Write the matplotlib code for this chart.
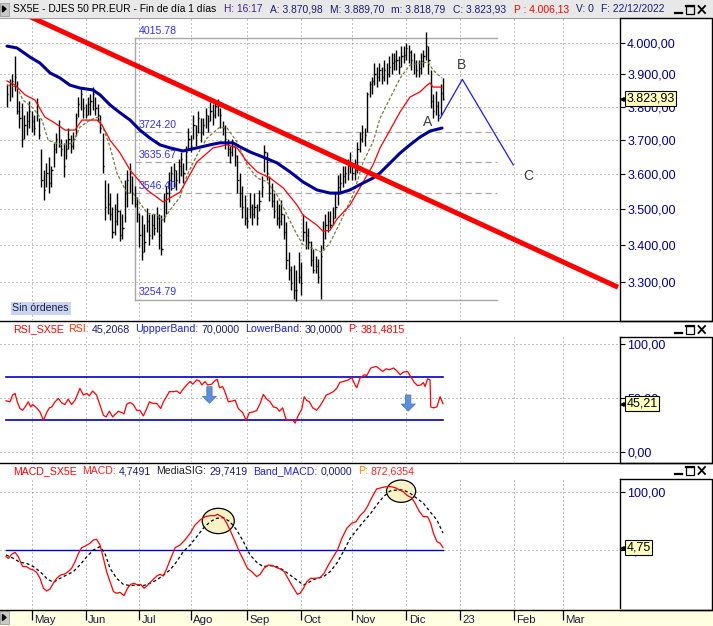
import matplotlib
matplotlib.use("Agg")
import matplotlib.pyplot as plt
import matplotlib.ticker as mticker
from matplotlib.patches import Rectangle, Ellipse
import numpy as np

plt.rcParams['font.family'] = ['Liberation Sans', 'DejaVu Sans']

W, H = 713, 626

# ---- price bars, one per trading day (index 0 ~ 19 Apr 2022, index 178 = 22 Dec 2022)
highs = [3869, 3885, 3902, 3957, 3880, 3817, 3811, 3775, 3786, 3817,
         3786, 3775, 3827, 3765, 3673, 3612, 3632, 3649, 3622, 3691,
         3721, 3759, 3703, 3691, 3703, 3734, 3713, 3724, 3781, 3828,
         3859, 3827, 3807, 3828, 3838, 3859, 3828, 3807, 3775, 3721,
         3583, 3573, 3544, 3506, 3515, 3544, 3497, 3485, 3583, 3611,
         3632, 3593, 3564, 3534, 3488, 3482, 3457, 3503, 3485, 3485,
         3485, 3505, 3485, 3482, 3544, 3564, 3606, 3622, 3632, 3612,
         3642, 3663, 3632, 3683, 3734, 3713, 3775, 3744, 3786, 3765,
         3765, 3796, 3775, 3813, 3807, 3817, 3822, 3796, 3755, 3744,
         3703, 3683, 3703, 3683, 3654, 3603, 3564, 3540, 3505, 3544,
         3515, 3544, 3515, 3554, 3593, 3685, 3663, 3593, 3573, 3544,
         3525, 3515, 3525, 3485, 3463, 3380, 3343, 3345, 3333, 3380,
         3353, 3485, 3466, 3447, 3410, 3390, 3371, 3362, 3400, 3466,
         3485, 3495, 3495, 3505, 3544, 3597, 3603, 3622, 3622, 3642,
         3663, 3632, 3642, 3693, 3724, 3744, 3734, 3844, 3880, 3891,
         3934, 3923, 3934, 3923, 3946, 3934, 3956, 3966, 3966, 3977,
         3956, 3988, 3988, 4000, 3994, 3977, 3966, 3946, 3946, 3966,
         3977, 4036, 3988, 3913, 3838, 3849, 3817, 3870, 3889.70]
lows = [3798, 3816, 3829, 3848, 3776, 3734, 3679, 3703, 3714, 3734,
        3724, 3714, 3755, 3703, 3563, 3525, 3563, 3545, 3563, 3619,
        3662, 3679, 3652, 3591, 3642, 3673, 3662, 3673, 3710, 3769,
        3789, 3765, 3765, 3775, 3775, 3789, 3775, 3755, 3721, 3602,
        3468, 3485, 3468, 3420, 3427, 3456, 3412, 3418, 3465, 3506,
        3546, 3514, 3505, 3465, 3394, 3359, 3381, 3435, 3400, 3418,
        3427, 3437, 3390, 3372, 3465, 3485, 3519, 3554, 3563, 3554,
        3573, 3593, 3573, 3612, 3673, 3663, 3703, 3683, 3719, 3693,
        3714, 3734, 3724, 3755, 3744, 3765, 3770, 3734, 3714, 3673,
        3652, 3632, 3652, 3622, 3544, 3505, 3475, 3455, 3446, 3475,
        3456, 3475, 3456, 3495, 3534, 3605, 3583, 3524, 3505, 3475,
        3456, 3446, 3456, 3417, 3336, 3306, 3279, 3256, 3252, 3298,
        3266, 3410, 3390, 3390, 3343, 3324, 3324, 3298, 3255, 3390,
        3418, 3437, 3446, 3456, 3475, 3510, 3544, 3563, 3573, 3583,
        3602, 3583, 3583, 3602, 3663, 3694, 3683, 3724, 3828, 3838,
        3866, 3859, 3880, 3870, 3880, 3870, 3891, 3902, 3913, 3913,
        3902, 3923, 3934, 3946, 3934, 3913, 3902, 3891, 3891, 3902,
        3923, 3946, 3902, 3796, 3765, 3775, 3755, 3775, 3818.79]
closes = [3838, 3869, 3880, 3891, 3786, 3765, 3703, 3744, 3755, 3786,
          3755, 3734, 3807, 3714, 3583, 3554, 3603, 3573, 3612, 3673,
          3703, 3683, 3673, 3622, 3673, 3703, 3683, 3703, 3765, 3807,
          3838, 3796, 3775, 3807, 3817, 3838, 3796, 3775, 3734, 3622,
          3505, 3514, 3485, 3437, 3466, 3495, 3427, 3446, 3544, 3583,
          3603, 3544, 3514, 3485, 3427, 3380, 3409, 3466, 3427, 3456,
          3446, 3475, 3427, 3390, 3524, 3544, 3583, 3603, 3612, 3583,
          3622, 3642, 3603, 3663, 3703, 3683, 3744, 3714, 3765, 3724,
          3744, 3775, 3755, 3786, 3775, 3801, 3817, 3775, 3734, 3703,
          3673, 3663, 3683, 3652, 3583, 3544, 3505, 3475, 3466, 3505,
          3485, 3505, 3475, 3524, 3563, 3663, 3603, 3544, 3524, 3495,
          3475, 3466, 3485, 3437, 3361, 3333, 3298, 3279, 3279, 3315,
          3298, 3437, 3427, 3409, 3361, 3333, 3343, 3315, 3371, 3409,
          3456, 3466, 3456, 3475, 3505, 3563, 3573, 3593, 3603, 3622,
          3632, 3603, 3612, 3673, 3703, 3724, 3713, 3838, 3869, 3880,
          3902, 3891, 3913, 3891, 3913, 3902, 3923, 3934, 3940, 3946,
          3923, 3956, 3961, 3982, 3971, 3946, 3934, 3913, 3918, 3940,
          3956, 3988, 3946, 3817, 3786, 3801, 3775, 3843, 3823.93]

# ---- moving averages (bar index, value)
ma_fast_x = [-0.1, 4.0, 6.4, 10.5, 14.2, 16.7, 19.5, 22.8, 26.9, 29.7, 33.8, 37.1, 39.1, 42.0,
             44.8, 48.9, 51.4, 54.2, 57.1, 61.2, 63.7, 66.5, 70.6, 73.5, 77.5, 81.6, 86.9,
             89.8, 93.9, 98.0, 102.1, 106.2, 110.2, 114.3, 118.4, 120.8, 124.9, 128.6, 131.9,
             136.0, 141.3, 145.4, 149.4, 152.3, 160.5, 164.5, 168.6, 171.9, 173.9, 177.6]
ma_fast_y = [3866, 3860, 3820, 3796, 3759, 3699, 3691, 3685, 3691, 3738, 3759, 3768, 3738, 3679,
             3603, 3545, 3545, 3517, 3489, 3483, 3469, 3497, 3534, 3597, 3655, 3705, 3738,
             3735, 3693, 3626, 3588, 3577, 3540, 3483, 3428, 3401, 3391, 3380, 3407,
             3463, 3540, 3635, 3693, 3765, 3888, 3929, 3935, 3938, 3913, 3888]
ma_mid_x = [-0.1, 3.2, 7.3, 11.3, 15.4, 19.5, 23.6, 27.7, 30.5, 33.8, 36.7, 38.7, 42.0, 46.1,
            50.2, 57.1, 63.7, 70.6, 77.5, 84.1, 89.8, 93.9, 98.0, 102.1, 107.4, 112.7, 118.4,
            120.8, 126.5, 129.0, 131.9, 134.7, 140.0, 145.4, 149.4, 152.3, 160.5, 164.5,
            168.6, 171.5, 172.7, 173.9, 177.6]
ma_mid_y = [3879, 3866, 3836, 3820, 3768, 3750, 3729, 3729, 3759, 3759, 3759, 3744, 3699, 3661,
            3611, 3554, 3520, 3548, 3635, 3676, 3685, 3676, 3635, 3606, 3588, 3560, 3511,
            3483, 3455, 3438, 3441, 3472, 3511, 3577, 3626, 3676, 3784, 3829,
            3845, 3866, 3873, 3860, 3860]
ma_slow_x = [-0.1, 4.0, 9.3, 13.4, 17.5, 21.6, 25.6, 29.7, 35.0, 37.9, 42.0, 46.1, 50.2, 54.2,
             58.3, 62.4, 66.5, 71.8, 77.5, 82.8, 86.9, 92.2, 95.1, 99.2, 104.5, 110.2, 115.5,
             120.8, 126.5, 131.9, 136.0, 140.0, 145.4, 149.4, 152.3, 160.5, 164.5, 168.6,
             172.7, 177.6]
ma_slow_y = [3989, 3983, 3954, 3935, 3904, 3888, 3866, 3857, 3851, 3836, 3805, 3781, 3759, 3729,
             3705, 3685, 3676, 3667, 3676, 3685, 3691, 3691, 3679, 3664, 3649, 3632, 3606,
             3577, 3554, 3545, 3545, 3554, 3574, 3588, 3603, 3661, 3685, 3708,
             3726, 3735]

# ---- drawings
trend_x = [-3, 249.5]
trend_y = [4130, 3287]
abc_x = [176.8, 185.9, 206.7]
abc_y = [3764, 3884, 3626]
abc_lbl_x = [171.7, 185.6, 212.7]
abc_lbl_y = [3753, 3929, 3594]
abc_lbl = ['A', 'B', 'C']
fib_levels = [4015.78, 3724.20, 3635.67, 3546.40, 3254.79]
fib_x0, fib_x1 = 52.0, 200.0

# ---- RSI (bar index, value)
rsi_x = [-0.5, 1.1, 2.2, 3.2, 4.1, 5.2, 6.3, 7.3, 8.6, 9.6, 10.4, 12.0, 13.4, 14.8, 16.1, 17.2,
         18.2, 19.5, 20.9, 22.2, 23.6, 24.9, 26.3, 27.7, 29.7, 31.1, 32.5, 33.5, 34.9, 36.5,
         37.9, 39.3, 40.4, 41.7, 43.1, 44.0, 45.4, 46.8, 47.7, 48.8, 50.2, 51.5, 52.9, 54.3,
         55.6, 57.0, 58.1, 59.4, 61.1, 62.7, 63.8, 65.2, 66.2, 67.9, 69.2, 70.6, 71.9, 73.3,
         74.7, 75.8, 77.4, 78.5, 79.5, 80.8, 81.8, 83.5, 84.9, 85.8, 86.7, 88.0, 89.0, 90.3,
         91.7, 93.1, 94.4, 96.2, 97.6, 98.9, 100.3, 101.9, 103.3, 104.6, 106.0, 107.4, 108.7,
         110.1, 111.2, 112.5, 113.9, 115.3, 116.6, 117.6, 118.9, 120.3, 121.3, 122.3, 123.4,
         124.8, 126.4, 127.8, 129.2, 130.3, 131.9, 133.2, 134.6, 135.9, 137.3, 139.4, 140.7,
         142.1, 142.8, 144.1, 145.8, 146.9, 148.5, 150.7, 152.0, 153.4, 154.8, 156.1, 157.8,
         159.1, 160.5, 161.8, 163.5, 164.8, 166.2, 167.6, 168.9, 170.0, 170.7, 171.7, 172.7,
         173.0, 174.1, 175.5, 176.8, 178.0]
rsi_y = [47.9, 46.9, 53.2, 54.7, 46.9, 40.7, 39.1, 42.2, 46.9, 42.2, 44.4, 41.3, 37.5, 29.7, 36.9, 41.3,
         42.2, 46.9, 50.0, 46.0, 44.4, 49.4, 44.4, 48.5, 59.4, 53.2, 54.7, 52.5, 56.9, 53.2,
         43.8, 34.4, 32.9, 38.2, 32.9, 35.1, 38.2, 36.9, 35.7, 44.7, 46.3, 44.4, 39.1, 38.8,
         33.8, 40.7, 46.9, 45.4, 45.4, 40.7, 46.9, 52.2, 56.3, 56.3, 56.9, 54.7, 58.8, 62.5,
         65.7, 63.2, 67.2, 66.3, 62.5, 65.7, 62.5, 63.2, 66.6, 67.9, 60.0, 61.0, 55.7, 46.9,
         47.5, 48.5, 40.7, 36.9, 29.7, 36.9, 37.5, 38.8, 45.4, 53.8, 49.4, 46.9, 42.2,
         41.3, 38.2, 41.3, 30.7, 30.1, 30.1, 27.2, 34.4, 40.0, 51.6, 48.2, 46.9,
         41.3, 39.1, 43.2, 48.5, 53.2, 54.7, 56.3, 59.4, 65.0, 65.7, 67.2, 69.4,
         62.5, 60.0, 68.8, 71.9, 71.3, 78.2, 79.7, 77.5, 75.0, 77.5, 76.6, 78.2,
         75.7, 71.9, 74.4, 75.0, 70.3, 65.0, 61.9, 62.5, 64.7, 61.0, 68.2, 67.2,
         42.2, 41.3, 42.2, 51.6, 45.21]
rsi_upper, rsi_lower = 70, 30
rsi_arrow_x = [82.6, 163.8]
rsi_arrow_top = [60.9, 53.2]
rsi_arrow_tip = [45.6, 38.4]

# ---- MACD (bar index, value)
macd_x = [-0.5, 0.5, 1.8, 3.2, 4.5, 6.3, 7.9, 9.3, 10.7, 12.0, 13.4, 14.8, 16.1, 17.5, 18.8, 20.2,
          21.8, 23.2, 24.9, 26.3, 27.7, 29.1, 30.4, 32.2, 33.8, 35.2, 36.5, 37.9, 39.3, 40.6,
          42.0, 43.4, 44.7, 46.1, 47.7, 49.1, 50.4, 51.8, 53.2, 54.5, 55.9, 57.7, 59.4, 61.1,
          62.4, 63.8, 65.2, 66.8, 68.6, 70.6, 72.6, 74.7, 76.7, 78.8, 80.8, 82.9, 84.9, 85.9,
          86.9, 88.3, 89.7, 91.3, 93.1, 94.8, 96.5, 98.1, 99.9, 101.9, 103.3, 104.9, 106.7,
          108.5, 110.1, 111.5, 113.1, 114.5, 115.8, 117.2, 118.5, 119.6, 121.0, 122.4, 123.9,
          125.8, 127.8, 129.4, 131.2, 133.2, 134.9, 136.7, 138.7, 140.7, 142.5, 144.1, 145.8,
          147.1, 148.9, 150.9, 153.0, 155.0, 156.7, 158.4, 160.2, 161.8, 163.5, 165.2, 166.6,
          168.4, 170.0, 171.7, 173.0, 174.1, 175.5, 176.8, 178.0]
macd_y = [-10.9, -13.8, -6.9, -3.5, -10.9, -28.0, -28.0, -32.0, -33.8, -37.8, -48.1, -65.2, -69.8,
          -66.4, -56.6, -48.1, -42.3, -41.2, -36.6, -30.9, -19.5, -5.2, 4.5, 8.0, 12.0, 17.7, 18.8,
          9.1, -13.8, -36.6, -53.8, -70.9, -73.8, -72.1, -77.8, -65.2, -58.4, -56.6, -59.5, -58.4,
          -65.2, -58.4, -50.9, -44.1, -41.2, -44.1, -30.9, -13.8, 4.5, 9.1, 17.7, 29.1, 43.4, 52.0,
          57.7, 59.4, 59.4, 61.7, 59.4, 56.0, 46.3, 32.0, 14.8, -2.3, -16.6, -30.9, -36.6, -45.2,
          -41.2, -30.9, -25.2, -26.3, -29.8, -32.0, -36.6, -46.9, -56.6, -66.4, -75.5, -73.8,
          -65.2, -53.8, -48.1, -48.1, -46.9, -39.5, -25.2, -10.9, 0.5, 20.6, 37.7, 46.3, 49.2,
          59.4, 66.3, 74.9, 90.3, 105.2, 107.5, 109.2, 109.2, 107.5, 103.5, 100.6, 93.7, 90.3,
          80.6, 66.3, 57.7, 57.7, 46.3, 29.1, 14.8, 12.0, 4.75]
sig_x = [-0.5, 2.5, 5.2, 7.9, 10.7, 13.4, 16.1, 18.8, 21.6, 24.3, 27.0, 29.7, 32.5, 35.2, 37.9,
         39.9, 42.0, 44.7, 47.4, 50.2, 52.9, 55.6, 58.3, 61.1, 63.8, 66.5, 69.2, 71.9, 74.7,
         77.4, 80.1, 82.9, 85.6, 88.3, 91.0, 93.7, 96.5, 99.2, 101.9, 104.6, 107.4, 110.1,
         112.8, 115.5, 118.3, 121.0, 123.7, 126.4, 129.2, 131.9, 134.6, 137.3, 140.1, 142.8,
         145.5, 148.2, 150.9, 153.7, 156.4, 159.1, 161.8, 164.6, 167.3, 170.0, 172.7, 175.5, 178.0]
sig_y = [-8.0, -13.8, -20.6, -22.3, -28.0, -36.6, -48.1, -54.9, -48.1, -42.3, -36.6, -25.2, -10.9,
         0.5, 6.3, -5.2, -30.9, -48.1, -58.4, -60.6, -59.5, -60.6, -56.6, -50.9, -42.3, -33.8,
         -19.5, -2.3, 9.1, 23.4, 37.7, 49.1, 54.9, 56.0, 49.1, 34.9, 14.8, -8.0, -20.6, -28.0,
         -26.3, -28.0, -33.8, -42.3, -50.9, -59.5, -53.8, -48.1, -45.2, -36.6, -22.3, -2.3,
         20.6, 34.9, 49.1, 61.7, 77.7, 92.0, 101.8, 103.5, 103.5, 97.8, 89.2, 80.6, 66.3, 52.0,
         29.74]
macd_circles = [(86.2, 50.3, 13.1, 43.4), (160.9, 101.4, 11.9, 38.3)]

# ---- time axis
month_idx = [10, 32, 54, 75, 98, 120, 141, 163, 185, 207, 227]
month_lbl = ['May', 'Jun', 'Jul', 'Ago', 'Sep', 'Oct', 'Nov', 'Dic', '23', 'Feb', 'Mar']

# ---- header texts (text, colour, gap after in em)
hdr_main = [("SX5E - DJES 50 PR.EUR - Fin de día 1 días", '#000000', 0.75),
            ("H: 16:17", '#40208F', 0.75), ("A: 3.870,98", '#1C1C78', 0.75),
            ("M: 3.889,70", '#1C1C78', 0.75), ("m: 3.818,79", '#1C1C78', 0.75),
            ("C: 3.823,93", '#1C1C78', 0.75), ("P : 4.006,13", '#FF0000', 0.75),
            ("V: 0", '#1C1C78', 0.75), ("F: 22/12/2022", '#1C1C78', 0)]
hdr_rsi = [("RSI_SX5E", '#FF0000', 0.5), ("RSI:", '#FF3300', 0.3), ("45,2068", '#1C1C78', 0.5),
           ("UppperBand:", '#2020E0', 0.3), ("70,0000", '#1C1C78', 0.5),
           ("LowerBand:", '#2020E0', 0.3), ("30,0000", '#1C1C78', 0.5),
           ("P:", '#FF0000', 0.3), ("381,4815", '#FF0000', 0)]
hdr_macd = [("MACD_SX5E", '#FF0000', 0.5), ("MACD:", '#FF2020', 0.3), ("4,7491", '#1C1C78', 0.5),
            ("MediaSIG:", '#202020', 0.3), ("29,7419", '#1C1C78', 0.5),
            ("Band_MACD:", '#2020E0', 0.3), ("0,0000", '#1C1C78', 0.5),
            ("P:", '#FF8000', 0.3), ("872,6354", '#FF2020', 0)]

XL = (-2.95, 250.3)
NAVY = '#000090'
GRID = dict(color='#808080', lw=0.72, ls=(0, (1, 3)))


def es(v, d=2):
    s = f"{v:,.{d}f}"
    return s.replace(',', 'X').replace('.', ',').replace('X', '.')


def pix_axes(top, bottom, left=0, right=620):
    return fig.add_axes([left / W, 1 - bottom / H, (right - left) / W, (bottom - top) / H])


def style_panel(a, yt, fmt):
    a.set_xlim(*XL)
    for s in ['left', 'top', 'bottom']:
        a.spines[s].set_visible(False)
    a.spines['right'].set_linewidth(1.0)
    a.set_xticks(month_idx)
    a.tick_params(axis='x', length=0, labelbottom=False)
    a.yaxis.tick_right()
    a.yaxis.set_major_locator(mticker.FixedLocator(yt))
    a.yaxis.set_minor_locator(mticker.NullLocator())
    a.yaxis.set_major_formatter(mticker.FuncFormatter(lambda v, p: fmt(v)))
    a.tick_params(axis='y', direction='out', length=3.6, width=0.8, pad=1.5,
                  labelsize=9, labelcolor=NAVY)
    a.grid(True, **GRID)
    a.set_axisbelow(True)


def value_box(a, v, txt):
    a.annotate(txt, xy=(1, v), xycoords=a.get_yaxis_transform(), xytext=(4.6, 0),
               textcoords='offset points', ha='left', va='center', fontsize=9, color='black',
               bbox=dict(boxstyle='square,pad=0.12', fc='#FFFFC0', ec='black', lw=0.8),
               annotation_clip=False, zorder=10)
    a.plot([1.004], [v], marker='<', ms=2.6, color='black', transform=a.get_yaxis_transform(),
           clip_on=False, zorder=10)


fig = plt.figure(figsize=(W / 100, H / 100), dpi=100)
fig.patch.set_facecolor('white')

# ---------------- main price panel
ax = pix_axes(18, 320)
ax.set_yscale('log')
ax.set_ylim(3201.7, 4080)
style_panel(ax, list(range(3300, 4001, 100)), lambda v: es(v))

x = np.arange(len(closes))
ax.vlines(x, lows, highs, color='black', lw=1.0, zorder=3)
ax.hlines(closes, x, x + 0.5, color='black', lw=1.0, zorder=3)

ax.plot(ma_fast_x, ma_fast_y, color='#7A7A3A', lw=0.9, ls=(0, (2.5, 1.5)), zorder=4)
ax.plot(ma_mid_x, ma_mid_y, color='#FF0000', lw=0.9, zorder=4)
ax.plot(ma_slow_x, ma_slow_y, color='#000099', lw=2.2, zorder=4, solid_capstyle='round')
ax.plot(trend_x, trend_y, color='#FF0000', lw=3.6, zorder=5, solid_capstyle='butt')
ax.plot(abc_x, abc_y, color='#1A1AFF', lw=0.9, zorder=5)
for lx, ly, lt in zip(abc_lbl_x, abc_lbl_y, abc_lbl):
    ax.text(lx, ly, lt, fontsize=10, color='#3A3A3A', ha='center', va='center', zorder=6)

# fibonacci block
for i, lv in enumerate(fib_levels):
    solid = i in (0, len(fib_levels) - 1)
    ax.plot([fib_x0, fib_x1], [lv, lv], color='#A8A8A8', lw=1.0 if solid else 0.9,
            ls='-' if solid else (0, (5, 3)), zorder=2)
    ax.annotate(f"{lv:.2f}", xy=(fib_x0 + 1.8, lv), xytext=(0, 1.5), textcoords='offset points',
                ha='left', va='bottom', fontsize=7.6, color='#3030F0', zorder=6)
ax.plot([fib_x0, fib_x0], [fib_levels[-1], fib_levels[0]], color='#A8A8A8', lw=1.0, zorder=2)

value_box(ax, closes[-1], es(closes[-1]))

# ---------------- RSI panel
ar = pix_axes(337, 462)
ar.set_ylim(-8.8, 106.9)
style_panel(ar, [0, 50, 100], lambda v: es(v))
ar.plot([rsi_x[0], rsi_x[-1]], [rsi_upper, rsi_upper], color='#0000CC', lw=1.2, zorder=3)
ar.plot([rsi_x[0], rsi_x[-1]], [rsi_lower, rsi_lower], color='#0000CC', lw=1.2, zorder=3)
ar.plot(rsi_x, rsi_y, color='#FF0000', lw=0.9, zorder=4)
for axx, yt, yb in zip(rsi_arrow_x, rsi_arrow_top, rsi_arrow_tip):
    ar.annotate('', xy=(axx, yb), xytext=(axx, yt),
                arrowprops=dict(arrowstyle='simple,head_length=0.5,head_width=1.0,tail_width=0.38',
                                fc='#5E8FD9', ec='#4A78C2', lw=0.6, shrinkA=0, shrinkB=0,
                                mutation_scale=10), zorder=5)
value_box(ar, rsi_y[-1], es(rsi_y[-1]))

# ---------------- MACD panel
am = pix_axes(479, 609)
am.set_ylim(-100.7, 122.3)
style_panel(am, [0, 100], lambda v: es(v))
for cx, cy, cw, chh in macd_circles:
    am.add_patch(Ellipse((cx, cy), cw, chh, fc='#F7F3C6', ec='black', lw=0.9, zorder=2))
am.plot([macd_x[0], macd_x[-1]], [0, 0], color='#0000CC', lw=1.0, zorder=3)
am.plot(sig_x, sig_y, color='black', lw=0.9, ls=(0, (2.5, 2)), zorder=4)
am.plot(macd_x, macd_y, color='#FF0000', lw=0.9, zorder=5)
value_box(am, macd_y[-1], es(macd_y[-1]))

# ---------------- time strip
ax_t = fig.add_axes([0, 0, 1, 17 / H])
ax_t.set_xlim(XL[0], XL[0] + (XL[1] - XL[0]) * W / 620)
ax_t.set_ylim(0, 1)
ax_t.axis('off')
ax_t.add_patch(Rectangle((0, 0), 1, 1, transform=ax_t.transAxes, fc='#FFFFE1', ec='none'))
ax_t.vlines(month_idx, 0.35, 0.95, color='black', lw=0.9)
for mi, ml in zip(month_idx, month_lbl):
    ax_t.text(mi + 1.0, 0.33, ml, fontsize=8.2, color='#1A1A40', ha='left', va='center')

# ---------------- window chrome (pixel coordinates)
ch = fig.add_axes([0, 0, 1, 1], zorder=20)
ch.set_xlim(0, W)
ch.set_ylim(H, 0)
ch.axis('off')
ch.add_patch(Rectangle((0, 0), W, 17.5, fc='#E8E8E8', ec='none'))
ch.plot([0, W], [17.5, 17.5], color='#A0A0A0', lw=0.7)
for y0 in (320.5, 462.5, 609.5):
    ch.plot([0, W], [y0, y0], color='black', lw=1.0)
for top, bot in ((17.5, 320.5), (337, 462.5), (479, 609.5)):
    ch.plot([619.5, 711.5, 711.5, 619.5], [top, top, bot, bot], color='black', lw=1.0)


def left_icon(y0):
    ch.add_patch(Rectangle((0, y0), 8.5, 13, fc='#C8C8C8', ec='#909090', lw=0.5))
    ch.fill([2.5, 2.5, 6], [y0 + 3.5, y0 + 9.5, y0 + 6.5], color='black')


def win_buttons(y0):
    ch.plot([675, 681.5], [y0 + 9, y0 + 9], color='black', lw=1.6)
    ch.add_patch(Rectangle((686, y0 + 1.5), 8, 8, fill=False, ec='black', lw=0.9))
    ch.plot([686, 694], [y0 + 2, y0 + 2], color='black', lw=1.6)
    ch.plot([698.5, 705], [y0 + 2, y0 + 9], color='black', lw=1.3)
    ch.plot([698.5, 705], [y0 + 9, y0 + 2], color='black', lw=1.3)


left_icon(2.5)
left_icon(611)
win_buttons(4)
win_buttons(324)
win_buttons(465)

renderer = fig.canvas.get_renderer()


def run_text(items, x0, x1, y, base=8.0):
    # lay the coloured pieces out one after another so the whole line spans x0..x1
    arts = [ch.text(0, y, t, fontsize=base, color=c, ha='left', va='center') for t, c, g in items]
    widths = [a.get_window_extent(renderer).width for a in arts]
    em = base * 100 / 72
    total = sum(widths) + sum(g for _, _, g in items) * em
    k = (x1 - x0) / total
    xx = x0
    for a, w, (t, c, g) in zip(arts, widths, items):
        a.set_fontsize(base * k)
        a.set_x(xx)
        xx += (w + g * em) * k


run_text(hdr_main, 13, 665, 9.5)
run_text(hdr_rsi, 13, 405, 329.5)
run_text(hdr_macd, 13, 415, 471.5)

ch.add_patch(Rectangle((10.7, 301.7), 60, 13.3, fc='#C8D7EE', ec='none'))
ch.text(40.7, 308.4, "Sin órdenes", fontsize=7.6, color='#1A1A50', ha='center', va='center')

fig.savefig('out.png', dpi=100, facecolor='white')
